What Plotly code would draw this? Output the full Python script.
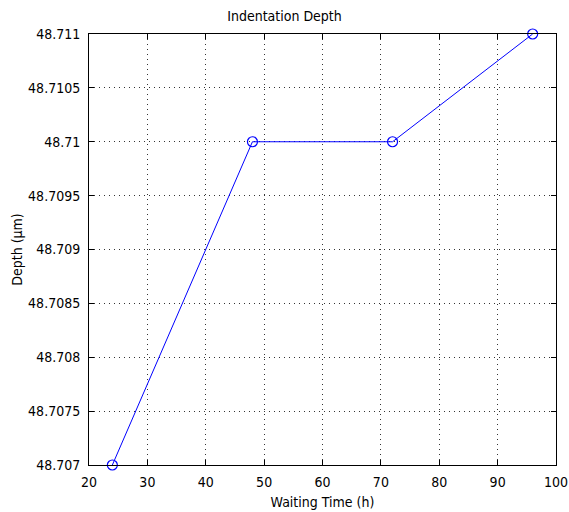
import plotly.graph_objects as go

waiting_time = [24, 48, 72, 96]
depth = [48.707, 48.710, 48.710, 48.711]

x_ticks = [20, 30, 40, 50, 60, 70, 80, 90, 100]
y_ticks = [48.707, 48.7075, 48.708, 48.7085, 48.709, 48.7095, 48.710, 48.7105, 48.711]
y_tick_labels = ["48.707", "48.7075", "48.708", "48.7085", "48.709", "48.7095", "48.71", "48.7105", "48.711"]

font_family = "DejaVu Sans Condensed, Liberation Sans Narrow, Arial Narrow, Liberation Sans, sans-serif"

fig = go.Figure()
fig.add_trace(go.Scatter(
    x=waiting_time, y=depth, mode="lines+markers",
    line=dict(color="#0000ff", width=1),
    marker=dict(symbol="circle-open", size=10, color="#0000ff", line=dict(width=1.2)),
    cliponaxis=False,
))

axis_common = dict(
    showline=True, mirror="ticks", linecolor="#000000", linewidth=1,
    ticks="inside", ticklen=5, tickcolor="#000000",
    showgrid=True, gridcolor="#333333", gridwidth=1, griddash="1px,4px",
    zeroline=False, automargin=False,
    tickfont=dict(size=14, color="#000000", family=font_family),
)

fig.update_layout(
    width=569, height=512,
    margin=dict(l=89, r=13, t=34, b=47),
    paper_bgcolor="#ffffff", plot_bgcolor="#ffffff",
    showlegend=False,
    font=dict(family=font_family, color="#000000", size=14),
    title=dict(text="Indentation Depth", x=0.5, xanchor="center", y=0.969, yanchor="middle",
               font=dict(size=14, family=font_family, color="#000000")),
    xaxis=dict(range=[20, 100], tickvals=x_ticks, ticklabelstandoff=4,
               title=dict(text="Waiting Time (h)", standoff=8, font=dict(size=14)), **axis_common),
    yaxis=dict(range=[48.707, 48.711], tickvals=y_ticks, ticktext=y_tick_labels, ticklabelstandoff=5,
               title=dict(text="Depth (μm)", standoff=2, font=dict(size=14)), **axis_common),
)

fig.write_html(
    "out.html",
    config={"displayModeBar": False},
    post_script="document.body.style.margin='0';document.body.style.overflow='hidden';",
)
